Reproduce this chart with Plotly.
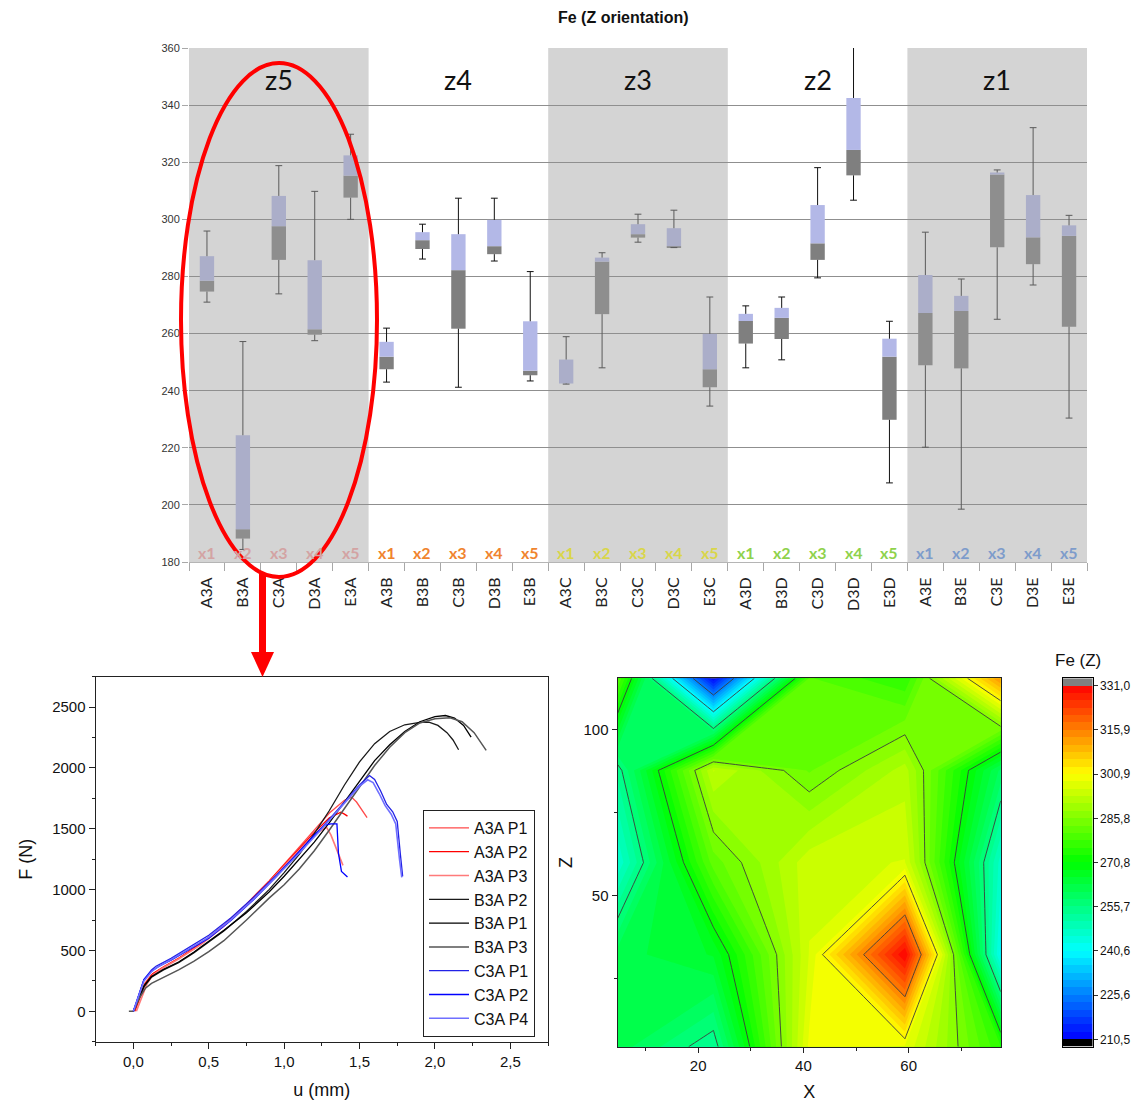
import plotly.graph_objects as go

W, H = 1142, 1102

# ---------------- Fe (Z orientation): per-specimen box summaries ----------------
specimens = ["A3A", "B3A", "C3A", "D3A", "E3A",
             "A3B", "B3B", "C3B", "D3B", "E3B",
             "A3C", "B3C", "C3C", "D3C", "E3C",
             "A3D", "B3D", "C3D", "D3D", "E3D",
             "A3E", "B3E", "C3E", "D3E", "E3E"]
zones = ["z5", "z4", "z3", "z2", "z1"]
slots = ["x1", "x2", "x3", "x4", "x5"]

fe_min = [271.0, 184.4, 273.9, 257.5, 300.0,
          243.0, 286.1, 241.2, 285.4, 243.4,
          242.3, 248.0, 292.0, 290.1, 234.6,
          248.0, 250.8, 279.5, 306.7, 207.7,
          220.2, 198.5, 265.0, 277.0, 230.4]
fe_q1 = [274.7, 188.2, 285.8, 259.6, 307.6,
         247.5, 289.6, 261.7, 287.8, 245.4,
         242.5, 266.8, 293.6, 290.3, 241.2,
         256.5, 258.1, 285.8, 315.4, 229.8,
         248.9, 247.8, 290.2, 284.3, 262.4]
fe_med = [278.5, 191.5, 297.6, 261.5, 315.3,
          251.9, 292.7, 282.2, 290.6, 247.0,
          242.5, 285.2, 294.8, 290.6, 247.5,
          264.4, 265.5, 291.6, 324.3, 251.9,
          267.2, 267.9, 315.7, 293.7, 294.2]
fe_q3 = [287.1, 224.4, 308.2, 285.7, 322.4,
         257.1, 295.5, 294.8, 299.8, 264.3,
         250.9, 286.6, 298.3, 296.9, 259.9,
         266.9, 269.0, 305.0, 342.5, 258.2,
         280.5, 273.2, 316.4, 308.5, 297.9]
fe_max = [295.9, 257.2, 318.8, 309.8, 329.8,
          261.9, 298.3, 307.4, 307.4, 281.7,
          258.9, 288.3, 301.8, 303.2, 272.8,
          269.7, 272.8, 318.1, 372.0, 264.3,
          295.5, 279.1, 317.3, 332.1, 301.4]

slot_colors = ["#d3a3a3", "#f0842e", "#d9d64a", "#8fd24c", "#7e9ccb"]

# ---------------- Force / displacement curves ----------------
u_a3a_p1 = [0, 0.03, 0.07, 0.12, 0.2, 0.3, 0.4, 0.5, 0.6, 0.75, 0.9, 1.0, 1.1, 1.2, 1.3, 1.4, 1.447, 1.48, 1.52, 1.55]
f_a3a_p1 = [0, 90, 220, 300, 360, 430, 510, 600, 700, 880, 1070, 1210, 1350, 1490, 1630, 1735, 1760, 1720, 1650, 1591]
u_a3a_p2 = [0.01, 0.04, 0.08, 0.13, 0.2, 0.3, 0.45, 0.6, 0.75, 0.9, 1.05, 1.2, 1.3, 1.376, 1.40, 1.42]
f_a3a_p2 = [0, 100, 230, 310, 365, 435, 560, 710, 880, 1070, 1270, 1470, 1590, 1637, 1620, 1604]
u_a3a_p3 = [0.02, 0.05, 0.09, 0.13, 0.2, 0.3, 0.45, 0.6, 0.75, 0.9, 1.05, 1.2, 1.28, 1.31, 1.34, 1.37, 1.39]
f_a3a_p3 = [0, 95, 225, 300, 360, 430, 550, 700, 870, 1060, 1260, 1450, 1514, 1450, 1350, 1250, 1199]
u_b3a_p2 = [0, 0.03, 0.07, 0.12, 0.2, 0.3, 0.4, 0.5, 0.6, 0.75, 0.9, 1.0, 1.1, 1.2, 1.3, 1.4, 1.5, 1.6, 1.7, 1.8, 1.9, 1.96, 2.02, 2.08, 2.12, 2.157]
f_b3a_p2 = [0, 80, 200, 280, 340, 400, 480, 570, 660, 820, 1000, 1140, 1290, 1460, 1650, 1860, 2050, 2200, 2300, 2355, 2375, 2377, 2350, 2290, 2230, 2150]
u_b3a_p1 = [0, 0.03, 0.07, 0.12, 0.2, 0.3, 0.4, 0.5, 0.6, 0.75, 0.9, 1.0, 1.1, 1.2, 1.3, 1.4, 1.5, 1.6, 1.7, 1.8, 1.9, 2.0, 2.07, 2.13, 2.19, 2.24]
f_b3a_p1 = [0, 85, 210, 285, 345, 405, 485, 575, 665, 810, 980, 1110, 1250, 1390, 1550, 1720, 1900, 2060, 2190, 2300, 2380, 2422, 2431, 2410, 2350, 2253]
u_b3a_p3 = [-0.03, 0, 0.04, 0.08, 0.12, 0.2, 0.3, 0.4, 0.5, 0.6, 0.75, 0.9, 1.0, 1.1, 1.2, 1.3, 1.4, 1.5, 1.6, 1.7, 1.8, 1.9, 2.0, 2.1, 2.18, 2.26, 2.34]
f_b3a_p3 = [0, 0, 110, 190, 230, 280, 340, 410, 490, 580, 750, 930, 1040, 1170, 1320, 1490, 1670, 1850, 2020, 2170, 2290, 2370, 2405, 2412, 2380, 2290, 2144]
u_c3a_p1 = [0, 0.03, 0.07, 0.12, 0.15, 0.25, 0.35, 0.5, 0.65, 0.8, 0.95, 1.1, 1.25, 1.4, 1.5, 1.566, 1.6, 1.64, 1.68, 1.72, 1.75, 1.77, 1.786]
f_c3a_p1 = [0, 120, 260, 340, 370, 435, 510, 625, 770, 940, 1120, 1310, 1510, 1720, 1860, 1938, 1905, 1810, 1700, 1640, 1560, 1300, 1109]
u_c3a_p2 = [0, 0.03, 0.07, 0.12, 0.17, 0.25, 0.35, 0.5, 0.65, 0.8, 0.95, 1.1, 1.2, 1.27, 1.31, 1.35, 1.36, 1.38, 1.42]
f_c3a_p2 = [0, 120, 260, 330, 370, 420, 490, 600, 750, 920, 1110, 1310, 1450, 1530, 1541, 1541, 1300, 1150, 1103]
u_c3a_p4 = [0, 0.03, 0.07, 0.12, 0.15, 0.25, 0.35, 0.5, 0.65, 0.8, 0.95, 1.1, 1.25, 1.4, 1.5, 1.554, 1.59, 1.63, 1.67, 1.71, 1.74, 1.765, 1.78]
f_c3a_p4 = [0, 110, 250, 325, 355, 425, 500, 610, 755, 925, 1110, 1300, 1500, 1710, 1850, 1903, 1880, 1790, 1690, 1620, 1540, 1250, 1100]

curves = [
    ("A3A P1", u_a3a_p1, f_a3a_p1, "#ff4a4a", 1.3),
    ("A3A P2", u_a3a_p2, f_a3a_p2, "#ff0000", 1.3),
    ("A3A P3", u_a3a_p3, f_a3a_p3, "#ff7a7a", 1.6),
    ("B3A P2", u_b3a_p2, f_b3a_p2, "#1a1a1a", 1.3),
    ("B3A P1", u_b3a_p1, f_b3a_p1, "#000000", 1.3),
    ("B3A P3", u_b3a_p3, f_b3a_p3, "#555555", 1.5),
    ("C3A P1", u_c3a_p1, f_c3a_p1, "#2222e6", 1.3),
    ("C3A P2", u_c3a_p2, f_c3a_p2, "#0000ff", 1.3),
    ("C3A P4", u_c3a_p4, f_c3a_p4, "#6f6fff", 1.6),
]

# ---------------- Fe (Z) map over the X-Z section ----------------
map_x = [4.7, 22.9, 41.1, 59.3, 77.5]
map_z = [4.4, 32.2, 60.0, 87.8, 115.6]
# rows: z1 (bottom) ... z5 (top); columns: x1 ... x5
fe_map = [
    [262.0, 253.5, 299.0, 298.0, 276.0],
    [262.0, 266.0, 296.0, 331.0, 242.0],
    [246.0, 282.0, 295.0, 296.0, 247.0],
    [254.0, 293.5, 283.0, 292.0, 260.0],
    [281.0, 210.5, 281.0, 276.0, 314.0],
]
scale_ticks = [210.5, 225.6, 240.6, 255.7, 270.8, 285.8, 300.9, 315.9, 331.0]
jet = ["#0000ff", "#0080ff", "#00ffff", "#00ff80", "#00ff00",
       "#80ff00", "#ffff00", "#ff8000", "#ff0000"]


def px(v):
    return v / W


def py(v):
    return 1 - v / H


fig = go.Figure()

# ---------- top panel: stacked boxes ----------
n = len(specimens)
pos = list(range(n))
is_gray = [(i // 5) % 2 == 0 for i in pos]
low_col = ["#8e8e8e" if g else "#7f7f7f" for g in is_gray]
up_col = ["#abaec9" if g else "#b3b8e7" for g in is_gray]

fig.add_trace(go.Bar(x=pos, y=[m - q for m, q in zip(fe_med, fe_q1)], base=fe_q1,
                     width=0.4, marker=dict(color=low_col, line=dict(width=0)),
                     showlegend=False, xaxis="x", yaxis="y", hoverinfo="skip"))
fig.add_trace(go.Bar(x=pos, y=[q - m for q, m in zip(fe_q3, fe_med)], base=fe_med,
                     width=0.4, marker=dict(color=up_col, line=dict(width=0)),
                     showlegend=False, xaxis="x", yaxis="y", hoverinfo="skip"))

cap = 0.095
for gray_band, wcol in [(True, "#5a5a5a"), (False, "#111111")]:
    xs, ys = [], []
    for i in pos:
        if is_gray[i] != gray_band:
            continue
        xs += [i, i, None, i - cap, i + cap, None, i, i, None, i - cap, i + cap, None]
        ys += [fe_q3[i], fe_max[i], None, fe_max[i], fe_max[i], None,
               fe_q1[i], fe_min[i], None, fe_min[i], fe_min[i], None]
    fig.add_trace(go.Scatter(x=xs, y=ys, mode="lines", line=dict(color=wcol, width=1),
                             showlegend=False, xaxis="x", yaxis="y", hoverinfo="skip"))

# ---------- bottom-left panel: F-u curves ----------
for name, u, f, col, lw in curves:
    fig.add_trace(go.Scatter(x=u, y=f, mode="lines", name=name,
                             line=dict(color=col, width=lw),
                             xaxis="x2", yaxis="y2"))

# ---------- bottom-right panel: contour map ----------
n_bands = 48
band = (scale_ticks[-1] - scale_ticks[0]) / n_bands
n_levels = n_bands + 1

# contour fill: colour of each band is sampled at its centre value
def contour_pos(v):
    return ((v - scale_ticks[0]) / band + 0.5) / n_levels

cscale = [[0.0, "#000000"], [contour_pos(scale_ticks[0]) - 0.2 / n_levels, "#000000"]]
cscale += [[contour_pos(v), c] for v, c in zip(scale_ticks, jet)]
cscale += [[contour_pos(scale_ticks[-1]) + 0.2 / n_levels, "#808080"], [1.0, "#808080"]]

fig.add_trace(go.Contour(
    x=map_x, y=map_z, z=fe_map, xaxis="x3", yaxis="y3",
    autocontour=False,
    contours=dict(start=scale_ticks[0], end=scale_ticks[-1], size=band,
                  coloring="fill", showlines=False),
    line=dict(width=0, smoothing=0), colorscale=cscale, hoverinfo="skip",
    showlegend=False, showscale=False,
))
fig.add_trace(go.Contour(
    x=map_x, y=map_z, z=fe_map, xaxis="x3", yaxis="y3",
    autocontour=False,
    contours=dict(start=scale_ticks[1], end=scale_ticks[-2],
                  size=(scale_ticks[-2] - scale_ticks[1]) / 6, coloring="none"),
    line=dict(color="#3c3c3c", width=0.9, smoothing=0), showscale=False,
    showlegend=False, hoverinfo="skip",
))

# ---------- colour key: one cell per band, plus under/over bands ----------
key_centres = [scale_ticks[0] + (k - 0.5) * band for k in range(n_bands + 2)]
key_lo, key_hi = key_centres[0], key_centres[-1]


def key_pos(v):
    return (v - key_lo) / (key_hi - key_lo)


kscale = [[0.0, "#000000"], [key_pos(scale_ticks[0]) - 0.1 * band / (key_hi - key_lo), "#000000"]]
kscale += [[key_pos(v), c] for v, c in zip(scale_ticks, jet)]
kscale += [[key_pos(scale_ticks[-1]) + 0.1 * band / (key_hi - key_lo), "#808080"], [1.0, "#808080"]]

fig.add_trace(go.Heatmap(
    x=[0], y=key_centres, z=[[v] for v in key_centres], zmin=key_lo, zmax=key_hi,
    colorscale=kscale, showscale=False, xaxis="x4", yaxis="y4", hoverinfo="skip",
))

# ---------- annotations ----------
ann = [dict(text="<b>Fe (Z orientation)</b>", x=px(623), y=py(18), xref="paper", yref="paper",
            xanchor="center", yanchor="middle", showarrow=False,
            font=dict(family="Liberation Sans", size=16, color="#111111"))]
for k, zname in enumerate(zones):
    ann.append(dict(text=zname, x=5 * k + 2, y=348.8, xref="x", yref="y", showarrow=False,
                    xanchor="center", yanchor="middle",
                    font=dict(family="Lato", size=27, color="#111111")))
for i in pos:
    ann.append(dict(text="<b>" + slots[i % 5] + "</b>", x=i, y=183.3, xref="x", yref="y",
                    xanchor="center", yanchor="middle", showarrow=False,
                    font=dict(family="Lato", size=16, color=slot_colors[i // 5])))
ann.append(dict(text="Fe (Z)", x=px(1078), y=py(660), xref="paper", yref="paper",
                xanchor="center", yanchor="middle", showarrow=False,
                font=dict(family="Liberation Sans", size=17, color="#111111")))

# ---------- shapes: gray zone bands, highlight ring and arrow ----------
shapes = []
for k in range(0, 5, 2):
    shapes.append(dict(type="rect", xref="x", yref="y domain", x0=5 * k - 0.5, x1=5 * k + 4.5,
                       y0=0, y1=1, fillcolor="#d4d4d4", line=dict(width=0), layer="below"))
shapes.append(dict(type="circle", xref="paper", yref="paper", x0=px(181), x1=px(377),
                   y0=py(577), y1=py(63), line=dict(color="#ff0000", width=4), layer="above"))
shapes.append(dict(type="line", xref="paper", yref="paper", x0=px(262.5), x1=px(262.5),
                   y0=py(573), y1=py(656), line=dict(color="#ff0000", width=7), layer="above"))
shapes.append(dict(type="path", xref="paper", yref="paper",
                   path="M {} {} L {} {} L {} {} Z".format(px(251), py(652), px(274), py(652),
                                                            px(262.5), py(677)),
                   fillcolor="#ff0000", line=dict(width=0), layer="above"))

axis_font = dict(family="Liberation Sans", size=15, color="#111111")
title_font = dict(family="Liberation Sans", size=18, color="#111111")

fig.update_layout(
    width=W, height=H, margin=dict(l=0, r=0, t=0, b=0, autoexpand=False),
    paper_bgcolor="#ffffff", plot_bgcolor="#ffffff",
    separators=",.", barmode="overlay", showlegend=True,
    annotations=ann, shapes=shapes,
    xaxis=dict(domain=[px(189), px(1087)], range=[-0.5, n - 0.5], showgrid=False, zeroline=False,
               tickmode="array", tickvals=pos, ticktext=specimens, tickangle=-90, ticks="",
               ticklabelstandoff=8, showline=True, linecolor="#b5b5b5", linewidth=1,
               tickfont=dict(family="Lato", size=16, color="#222222"), automargin=False,
               minor=dict(tickmode="array", tickvals=[i - 0.5 for i in range(n + 1)],
                          ticks="outside", ticklen=8, tickcolor="#a8a8a8", showgrid=False),
               anchor="y"),
    yaxis=dict(domain=[py(562), py(48)], range=[180, 360], dtick=20, showgrid=True,
               gridcolor="#8f8f8f", gridwidth=1, zeroline=False, ticks="outside", ticklen=6,
               tickcolor="#a8a8a8", tickfont=dict(family="Liberation Sans", size=11, color="#333333"),
               automargin=False, anchor="x"),
    xaxis2=dict(domain=[px(95.7), px(548)], range=[-0.25, 2.75], dtick=0.5, tick0=0,
                tickformat=".1f", showgrid=False, zeroline=False, showline=True, mirror=True,
                linecolor="#222222", linewidth=1.3, ticks="outside", ticklen=6, tickwidth=1.2,
                tickcolor="#222222", tickfont=axis_font, automargin=False,
                minor=dict(dtick=0.25, tick0=0, ticks="outside", ticklen=3, tickcolor="#222222"),
                title=dict(text="u (mm)", font=title_font, standoff=14), anchor="y2"),
    yaxis2=dict(domain=[py(1041.7), py(676.7)], range=[-250, 2750], dtick=500, tick0=0,
                showgrid=False, zeroline=False, showline=True, mirror=True,
                linecolor="#222222", linewidth=1.3, ticks="outside", ticklen=6, tickwidth=1.2,
                tickcolor="#222222", tickfont=axis_font, automargin=False,
                minor=dict(dtick=250, tick0=0, ticks="outside", ticklen=3, tickcolor="#222222"),
                title=dict(text="F (N)", font=title_font, standoff=14), anchor="x2"),
    xaxis3=dict(domain=[px(617.7), px(1000.7)], range=[map_x[0], map_x[-1]], dtick=20, tick0=0,
                showgrid=False, zeroline=False, showline=True, mirror=True,
                linecolor="#222222", linewidth=1.3, ticks="outside", ticklen=5,
                tickcolor="#222222", tickfont=axis_font, automargin=False,
                minor=dict(dtick=10, tick0=0, ticks="outside", ticklen=3, tickcolor="#222222"),
                title=dict(text="X", font=title_font, standoff=14), anchor="y3"),
    yaxis3=dict(domain=[py(1046.7), py(678.3)], range=[map_z[0], map_z[-1]], dtick=50, tick0=0,
                showgrid=False, zeroline=False, showline=True, mirror=True,
                linecolor="#222222", linewidth=1.3, ticks="outside", ticklen=5,
                tickcolor="#222222", tickfont=axis_font, automargin=False,
                minor=dict(dtick=25, tick0=0, ticks="outside", ticklen=3, tickcolor="#222222"),
                title=dict(text="Z", font=title_font, standoff=6), anchor="x3"),
    xaxis4=dict(domain=[px(1062.7), px(1092.7)], range=[-0.5, 0.5], showticklabels=False,
                ticks="", showgrid=False, zeroline=False, showline=True, mirror=True,
                linecolor="#000000", linewidth=1, automargin=False, anchor="y4"),
    yaxis4=dict(domain=[py(1046.7), py(678.3)], range=[key_lo - band / 2, key_hi + band / 2],
                side="right", tickmode="array", tickvals=scale_ticks, tickformat=".1f",
                ticks="outside", ticklen=4, tickcolor="#333333", showgrid=False, zeroline=False,
                showline=True, mirror=True, linecolor="#000000", linewidth=1,
                tickfont=dict(family="Liberation Sans", size=12, color="#111111"),
                automargin=False, anchor="x4"),
    legend=dict(x=px(423), y=py(810), xanchor="left", yanchor="top", bgcolor="#ffffff",
                bordercolor="#222222", borderwidth=1, itemwidth=40,
                font=dict(family="Liberation Sans", size=16, color="#111111")),
)

fig.write_html("out.html")
